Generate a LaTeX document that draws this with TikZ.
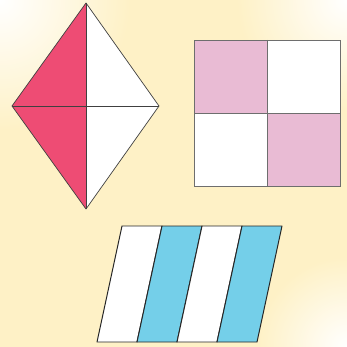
\documentclass[tikz,border=0pt]{standalone}
\usepackage{xcolor}
\definecolor{cream}{HTML}{FEF1C6}
\definecolor{rosered}{HTML}{EE4C74}
\definecolor{pinklight}{HTML}{E9BBD4}
\definecolor{skyblue}{HTML}{74CFE9}
\definecolor{edgegray}{HTML}{6E6E6E}

\begin{document}
\begin{tikzpicture}[
    x=0.025cm, y=-0.025cm,
    edge/.style={draw=black!75, line width=0.5pt, line join=round},
    sqedge/.style={draw=edgegray, line width=0.7pt},
    stripe/.style={draw=black!85, line width=0.7pt, line join=round},
]

% Background
\useasboundingbox (0,0) rectangle (347,347);
\begin{scope}
\clip (0,0) rectangle (347,347);
\fill[cream] (0,0) rectangle (347,347);
\shade[inner color=white, outer color=cream] (0,0) circle (130);
\shade[inner color=white, outer color=cream] (347,0) circle (110);
\shade[inner color=white, outer color=cream] (347,347) circle (90);
\end{scope}

% Kite
\coordinate (ktop) at (86,3);
\coordinate (kleft) at (12,106);
\coordinate (kright) at (159,106);
\coordinate (kbot) at (86,209);
\coordinate (kmid) at (86,106);
\fill[rosered] (ktop) -- (kleft) -- (kbot) -- cycle;
\fill[white] (ktop) -- (kright) -- (kbot) -- cycle;
\draw[edge] (ktop) -- (kleft) -- (kbot) -- (kright) -- cycle;
\draw[edge] (ktop) -- (kbot);
\draw[edge] (kleft) -- (kright);

% Square
\fill[white] (194,40) rectangle (340,186);
\fill[pinklight] (194,40) rectangle (267,113);
\fill[pinklight] (267,113) rectangle (340,186);
\draw[sqedge] (194,40) rectangle (340,186);
\draw[sqedge] (267,40) -- (267,186);
\draw[sqedge] (194,113) -- (340,113);

% Parallelogram stripes
\foreach \i/\col in {0/white, 1/skyblue, 2/white, 3/skyblue} {
    \pgfmathsetmacro{\xt}{122+40*\i}
    \pgfmathsetmacro{\xb}{97+40*\i}
    \filldraw[stripe, fill=\col] (\xt,226) -- ({\xt+40},226) -- ({\xb+40},342) -- (\xb,342) -- cycle;
}

\end{tikzpicture}
\end{document}
